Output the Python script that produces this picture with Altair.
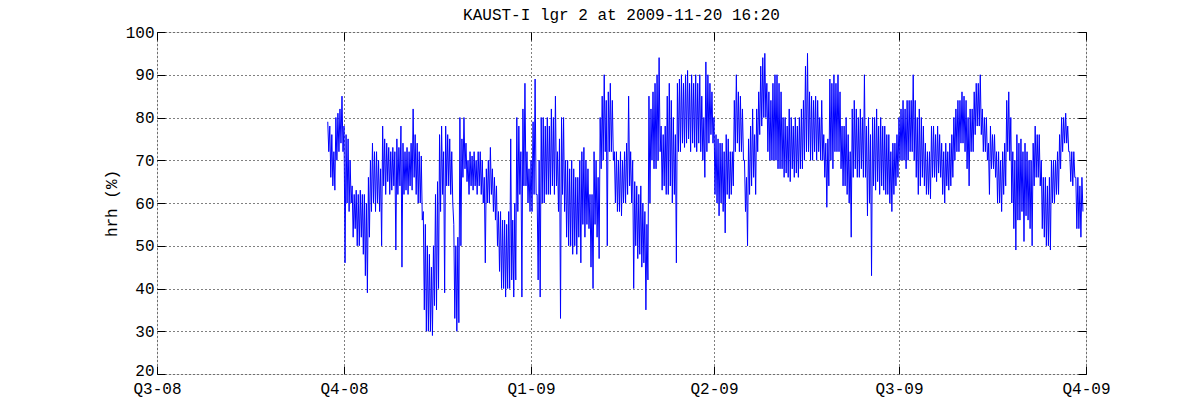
import altair as alt
import pandas as pd

title_text = "KAUST-I lgr 2 at 2009-11-20 16:20"
y_title = "hrh (%)"
start_date = "2008-09-23"

# Daily high / low of relative humidity (%)
# 2008-09-23 .. 2008-12-31
hi_q4_2008 = [
    79, 78, 76, 72, 80, 81, 82, 85, 78, 76, 75, 70, 64, 62, 63, 62, 63, 62, 62, 60,
    66, 70, 74, 72, 72, 70, 68, 78, 75, 74, 73, 72, 73, 72, 75, 73, 78, 74, 72, 73,
    72, 74, 82, 76, 74, 72, 71, 58, 55, 50, 48, 45, 50, 62, 65, 76, 78, 72, 78, 76,
    75, 72, 55, 50, 52, 80, 75, 80, 74, 70, 72, 71, 72, 70, 72, 72, 70, 66, 68, 70,
    73, 68, 66, 64, 58, 58, 56, 56, 55, 58, 75, 56, 60, 80, 78, 72, 82, 88, 72, 68,
]
lo_q4_2008 = [
    72, 66, 64, 63, 70, 72, 74, 72, 46, 60, 58, 60, 52, 54, 50, 50, 52, 48, 43, 39,
    52, 58, 60, 58, 60, 58, 50, 64, 62, 65, 62, 63, 64, 49, 62, 64, 45, 62, 63, 62,
    64, 63, 66, 62, 60, 60, 56, 35, 30, 30, 30, 29, 36, 35, 40, 58, 62, 39, 64, 64,
    62, 60, 33, 30, 32, 50, 66, 68, 65, 62, 64, 63, 64, 62, 64, 62, 60, 46, 60, 60,
    62, 58, 56, 50, 44, 40, 40, 38, 40, 40, 42, 38, 42, 58, 62, 38, 64, 64, 60, 58,
]
# 2009-01-01 .. 2009-03-31
hi_q1_2009 = [
    70, 79, 89, 62, 70, 80, 80, 78, 80, 78, 82, 80, 85, 72, 75, 80, 80, 70, 70, 68,
    70, 68, 66, 66, 70, 72, 73, 70, 68, 62, 62, 72, 70, 66, 80, 85, 90, 84, 86, 88,
    84, 72, 72, 70, 72, 70, 72, 74, 85, 72, 70, 65, 64, 62, 64, 60, 58, 55, 85, 82,
    86, 88, 90, 94, 78, 76, 78, 85, 88, 84, 80, 76, 88, 89, 90, 88, 90, 91, 88, 90,
    88, 90, 88, 90, 85, 80, 93, 90, 88, 86,
]
lo_q1_2009 = [
    58, 62, 62, 42, 38, 60, 60, 62, 62, 62, 64, 62, 64, 58, 33, 62, 58, 52, 50, 50,
    48, 50, 48, 52, 46, 55, 52, 55, 54, 45, 40, 55, 52, 47, 68, 70, 72, 50, 72, 72,
    70, 60, 58, 58, 57, 60, 60, 62, 64, 60, 40, 50, 47, 48, 45, 46, 35, 42, 60, 70,
    68, 68, 70, 72, 63, 64, 62, 62, 64, 60, 62, 46, 72, 72, 74, 73, 74, 75, 72, 74,
    73, 72, 74, 72, 70, 66, 72, 74, 76, 74,
]
# 2009-04-01 .. 2009-06-30
hi_q2_2009 = [
    80, 76, 75, 74, 74, 72, 76, 75, 72, 72, 84, 90, 86, 85, 82, 70, 66, 75, 78, 82,
    76, 82, 86, 92, 94, 95, 88, 86, 84, 88, 90, 90, 88, 86, 80, 80, 78, 82, 80, 78,
    80, 78, 80, 82, 84, 92, 95, 86, 85, 84, 85, 84, 80, 84, 76, 74, 75, 89, 88, 90,
    88, 90, 86, 78, 78, 80, 76, 72, 82, 84, 82, 80, 82, 80, 90, 78, 80, 76, 80, 80,
    82, 78, 80, 78, 78, 76, 76, 72, 74, 74, 76,
]
lo_q2_2009 = [
    62, 60, 57, 60, 58, 53, 62, 61, 62, 64, 72, 74, 72, 72, 70, 58, 50, 62, 64, 66,
    62, 72, 76, 78, 80, 80, 72, 70, 70, 70, 70, 68, 68, 68, 66, 67, 66, 65, 68, 66,
    67, 66, 68, 68, 70, 72, 72, 70, 70, 72, 70, 72, 70, 70, 66, 59, 64, 70, 68, 72,
    72, 72, 68, 64, 64, 62, 60, 52, 66, 68, 66, 66, 68, 66, 66, 57, 60, 43, 64, 63,
    65, 62, 64, 63, 62, 62, 60, 58, 62, 64, 66,
]
# 2009-07-01 .. 2009-09-29
hi_q3_2009 = [
    80, 82, 84, 82, 84, 84, 84, 90, 84, 80, 82, 80, 78, 74, 72, 72, 78, 78, 76, 78,
    76, 74, 72, 74, 72, 74, 76, 80, 82, 84, 84, 86, 85, 84, 80, 82, 82, 86, 88, 88,
    90, 82, 80, 80, 74, 78, 76, 76, 72, 72, 70, 72, 74, 84, 86, 80, 72, 70, 76, 74,
    75, 72, 74, 72, 70, 70, 74, 78, 76, 76, 70, 66, 66, 64, 66, 70, 70, 70, 72, 76,
    80, 80, 81, 78, 72, 72, 72, 66, 66, 64, 66,
]
lo_q3_2009 = [
    70, 70, 70, 68, 70, 72, 72, 70, 66, 62, 64, 66, 64, 62, 62, 61, 66, 66, 65, 67,
    66, 62, 60, 64, 63, 64, 66, 70, 72, 72, 74, 74, 72, 68, 64, 72, 72, 76, 78, 78,
    76, 72, 72, 70, 62, 68, 68, 66, 60, 60, 58, 62, 64, 72, 70, 60, 54, 49, 56, 56,
    58, 51, 57, 56, 54, 50, 64, 66, 66, 64, 54, 52, 50, 50, 49, 60, 60, 62, 62, 68,
    72, 74, 74, 72, 65, 64, 66, 54, 54, 52, 58,
]

tick_dates = ["2008-07-01", "2008-10-01", "2009-01-01", "2009-04-01", "2009-07-01", "2009-10-01"]
tick_labels = ["Q3-08", "Q4-08", "Q1-09", "Q2-09", "Q3-09", "Q4-09"]
y_ticks = [20, 30, 40, 50, 60, 70, 80, 90, 100]

hi = hi_q4_2008 + hi_q1_2009 + hi_q2_2009 + hi_q3_2009
lo = lo_q4_2008 + lo_q1_2009 + lo_q2_2009 + lo_q3_2009
days = pd.date_range(start_date, periods=len(hi), freq="D")
times, values = [], []
for d, h, l in zip(days, hi, lo):
    times += [d, d + pd.Timedelta(hours=12)]
    values += [h, l]
df = pd.DataFrame({"time": times, "rh": values})


def dt(s):
    y, m, d = map(int, s.split("-"))
    return alt.DateTime(year=y, month=m, date=d)


tick_dt = [dt(s) for s in tick_dates]
label_expr = ""
for d, lab in zip(tick_dates, tick_labels):
    label_expr += f"timeFormat(datum.value, '%Y-%m-%d') == '{d}' ? '{lab}' : "
label_expr += "''"

FONT = "Liberation Mono"
FS = 16

x_scale = alt.Scale(domain=[tick_dt[0], tick_dt[-1]])
y_scale = alt.Scale(domain=[20, 100], nice=False, zero=False)

common = dict(tickColor="black", tickWidth=1, tickSize=8, offset=-8, domain=False,
              labelFont=FONT, labelFontSize=FS, labelColor="black",
              titleFont=FONT, titleFontSize=FS, titleColor="black", titleFontWeight="normal")
grid = dict(grid=True, gridColor="black", gridDash=[1, 3], gridOpacity=1, gridWidth=1)

base = alt.Chart(df)

main = base.mark_line(color="#0000ff", strokeWidth=1).encode(
    x=alt.X("time:T", scale=x_scale,
            axis=alt.Axis(orient="bottom", values=tick_dt, labelExpr=label_expr, title=None,
                          labelPadding=6, labelAngle=0, labelOverlap=False, labelFlush=False,
                          **grid, **common)),
    y=alt.Y("rh:Q", scale=y_scale,
            axis=alt.Axis(orient="left", values=y_ticks, title=y_title, labelPadding=3,
                          titlePadding=6, labelOverlap=False, labelFlush=False,
                          labelOffset=alt.ExprRef("datum.value == 20 ? -4 : 0"),
                          **grid, **common)),
)

frame = base.mark_line(strokeOpacity=0).encode(
    x=alt.X("time:T", scale=x_scale,
            axis=alt.Axis(orient="top", values=tick_dt, labels=False, title=None, grid=False, **common)),
    y=alt.Y("rh:Q", scale=y_scale,
            axis=alt.Axis(orient="right", values=y_ticks, labels=False, title=None, grid=False, **common)),
)

chart = (
    alt.layer(main, frame)
    .resolve_axis(x="independent", y="independent")
    .properties(
        width=929,
        height=342,
        title=alt.TitleParams(title_text, font=FONT, fontSize=FS, fontWeight="normal",
                              color="black", anchor="middle", offset=1),
        autosize=alt.AutoSizeParams(type="none"),
        padding={"left": 149, "top": 24, "right": 100, "bottom": 30},
    )
    .configure_view(stroke="black", strokeWidth=1)
    .configure(background="white")
)

chart.save("out.html", embed_options={"renderer": "svg", "actions": False})
